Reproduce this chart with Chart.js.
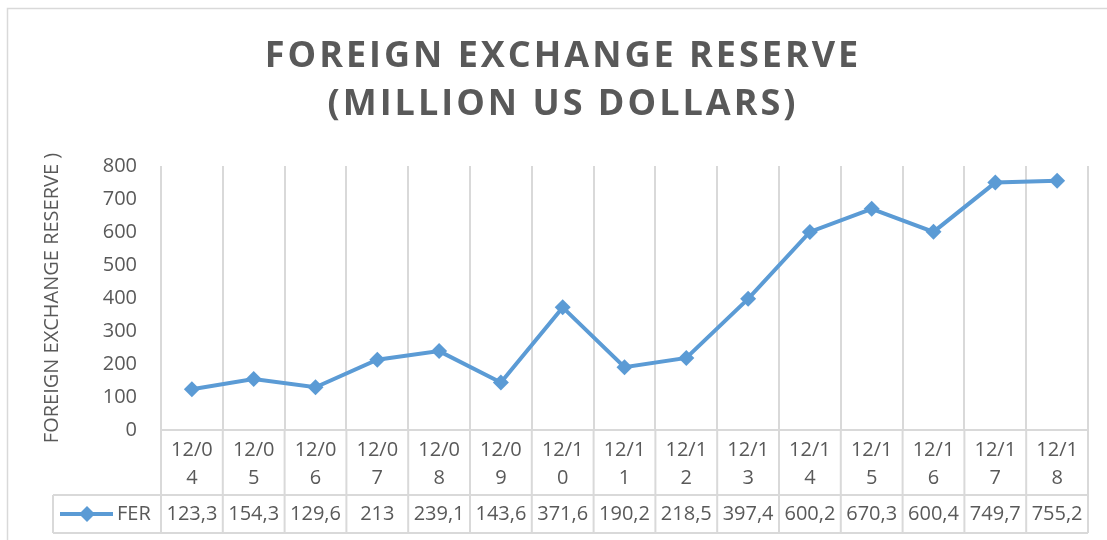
<!DOCTYPE html>
<html lang="en">
<head>
  <meta charset="UTF-8" />
  <title>Foreign Exchange Reserve</title>
  <script src="https://cdn.jsdelivr.net/npm/chart.js"></script>
  <style>
    html, body {
      margin: 0;
      padding: 0;
      background: #fff;
    }
    .chart-box {
      width: 1107px;
      height: 540px;
    }
  </style>
</head>
<body>

<div class="chart-box">
  <canvas id="ferChart" width="1107" height="540"></canvas>
</div>

<script>
const categories = ["12/04", "12/05", "12/06", "12/07", "12/08", "12/09", "12/10", "12/11",
                    "12/12", "12/13", "12/14", "12/15", "12/16", "12/17", "12/18"];
const ferValues = [123.3, 154.3, 129.6, 213, 239.1, 143.6, 371.6, 190.2,
                   218.5, 397.4, 600.2, 670.3, 600.4, 749.7, 755.2];
const seriesName = "FER";
const titleLines = ["FOREIGN EXCHANGE RESERVE", "(MILLION US DOLLARS)"];
const yAxisTitle = "FOREIGN EXCHANGE RESERVE )";
const yMin = 0, yMax = 800, yStep = 100;

const lineColor = "#5b9bd5";
const textColor = "#595959";
const gridColor = "#d9d9d9";
const fontName = "'Open Sans', sans-serif";

// number shown in the data table, comma decimal like the source
const fmt = v => String(v).replace(".", ",");

// outer frame + big title
const frameAndTitle = {
  id: "frameAndTitle",
  beforeDraw(chart) {
    const ctx = chart.ctx;
    ctx.save();
    ctx.strokeStyle = gridColor;
    ctx.lineWidth = 1.5;
    ctx.strokeRect(7.5, 8.5, 1200, 600);

    ctx.fillStyle = textColor;
    ctx.font = "bold 36px " + fontName;
    ctx.letterSpacing = "3px";
    ctx.textAlign = "center";
    ctx.textBaseline = "middle";
    ctx.fillText(titleLines[0], 563, 57);
    ctx.fillText(titleLines[1], 563, 105);
    ctx.restore();
  }
};

// excel style data table under the plot
const dataTable = {
  id: "dataTable",
  afterDraw(chart) {
    const ctx = chart.ctx;
    const xs = chart.scales.x;
    const area = chart.chartArea;
    const n = categories.length;
    const top = area.bottom;
    const mid = top + 65;
    const bot = mid + 38;
    const legendLeft = 53;

    ctx.save();
    ctx.strokeStyle = gridColor;
    ctx.lineWidth = 2;
    ctx.beginPath();
    ctx.moveTo(area.left, top); ctx.lineTo(area.right, top);
    ctx.moveTo(legendLeft, mid); ctx.lineTo(area.right, mid);
    ctx.moveTo(legendLeft, bot); ctx.lineTo(area.right, bot);
    ctx.moveTo(legendLeft, mid); ctx.lineTo(legendLeft, bot);
    const half = (area.right - area.left) / n / 2;
    for (let i = 0; i < n; i++) {
      const b = xs.getPixelForValue(i) - half;
      ctx.moveTo(b, top); ctx.lineTo(b, bot);
    }
    ctx.moveTo(area.right, top); ctx.lineTo(area.right, bot);
    ctx.stroke();

    ctx.fillStyle = textColor;
    ctx.font = "20px " + fontName;
    ctx.textAlign = "center";
    ctx.textBaseline = "middle";
    categories.forEach((c, i) => {
      const cx = xs.getPixelForValue(i);
      ctx.fillText(c.slice(0, 4), cx, top + 20);
      ctx.fillText(c.slice(4), cx, top + 48);
      ctx.fillText(fmt(ferValues[i]), cx, mid + 19);
    });

    // legend key
    const ly = mid + 19;
    ctx.strokeStyle = lineColor;
    ctx.lineWidth = 4;
    ctx.beginPath();
    ctx.moveTo(60, ly); ctx.lineTo(113, ly);
    ctx.stroke();
    ctx.fillStyle = lineColor;
    ctx.beginPath();
    ctx.moveTo(87, ly - 8); ctx.lineTo(95, ly);
    ctx.lineTo(87, ly + 8); ctx.lineTo(79, ly);
    ctx.closePath();
    ctx.fill();
    ctx.fillStyle = textColor;
    ctx.textAlign = "left";
    ctx.fillText(seriesName, 117, ly);
    ctx.restore();
  }
};

new Chart(document.getElementById("ferChart"), {
  type: "line",
  data: {
    labels: categories,
    datasets: [{
      label: seriesName,
      data: ferValues,
      borderColor: lineColor,
      backgroundColor: lineColor,
      borderWidth: 4,
      tension: 0,
      pointStyle: "rectRot",
      pointRadius: 8,
      pointBorderWidth: 0,
      pointBackgroundColor: lineColor
    }]
  },
  options: {
    responsive: false,
    animation: false,
    layout: {
      padding: { top: 166, right: 19, bottom: 110, left: 0 }
    },
    plugins: {
      legend: { display: false },
      tooltip: { enabled: false }
    },
    scales: {
      x: {
        offset: true,
        ticks: { display: false },
        border: { display: false },
        grid: {
          offset: true,
          color: gridColor,
          lineWidth: 2,
          drawTicks: false
        }
      },
      y: {
        min: yMin,
        max: yMax,
        afterFit(scale) { scale.width = 161; },
        ticks: {
          stepSize: yStep,
          padding: 24,
          color: textColor,
          font: { family: fontName, size: 20 }
        },
        border: { display: false },
        grid: { display: false, drawTicks: false },
        title: {
          display: true,
          text: yAxisTitle,
          color: textColor,
          font: { family: fontName, size: 20 },
          padding: { top: 40, bottom: 0 }
        }
      }
    }
  },
  plugins: [frameAndTitle, dataTable]
});
</script>

</body>
</html>
